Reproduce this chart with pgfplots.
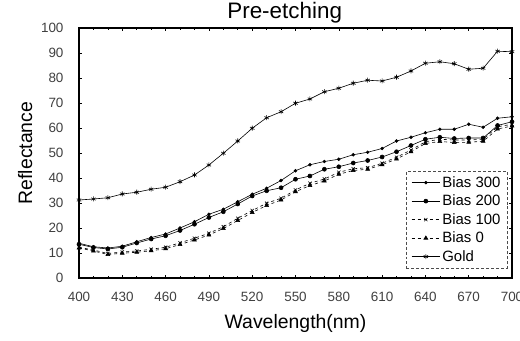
\documentclass[border=0pt]{standalone}
\usepackage{pgfplots}
\pgfplotsset{compat=1.18}
\usepackage{fontspec}
\setmainfont{Liberation Sans}
\begin{document}
\begin{tikzpicture}
\begin{axis}[
  at={(0,0)}, anchor=south west,
  scale only axis, width=433bp, height=250bp,
  xmin=400, xmax=700, ymin=0, ymax=100,
  xtick={400,430,...,700}, ytick={0,10,...,100},
  minor x tick num=2,
  tick align=inside, major tick length=3bp, minor tick length=2bp,
  axis line style={line width=1.3bp},
  every tick/.style={black, line width=0.6bp},
  tick label style={font=\fontsize{13.5}{15}\selectfont, text=black!75},
  /pgf/number format/assume math mode=true,
  /pgf/number format/1000 sep={},
  xticklabel style={yshift=-11bp},
  yticklabel style={xshift=-12bp},
  xlabel={Wavelength(nm)}, ylabel={Reflectance},
  label style={font=\fontsize{19.5}{22}\selectfont},
  xlabel style={yshift=-6bp},
  ylabel style={yshift=2bp},
  title={Pre-etching},
  title style={font=\fontsize{22.5}{24}\selectfont, at={(0.475,1)}, yshift=-5bp},
  legend style={at={(0.99,0.04)}, anchor=south east, font=\fontsize{15}{17}\selectfont,
    draw=black!70, densely dashed, row sep=2.2bp, inner xsep=5bp, inner ysep=3bp,
    /tikz/every even column/.append style={column sep=2bp}},
  legend cell align=left,
  legend image code/.code={\draw[mark repeat=2,mark phase=2,#1] plot coordinates {(0cm,0cm) (0.5cm,0cm) (1.0cm,0cm)};},
  every axis plot/.append style={black, line width=0.6bp},
]
% Bias 300
\addplot[solid, mark=*, mark size=1.4bp, mark options={solid}] coordinates {
(400,13.9)(410,12.5)(420,12.0)(430,12.7)(440,14.5)(450,16.2)(460,17.6)(470,20.0)(480,22.5)(490,25.5)
(500,27.5)(510,30.5)(520,33.5)(530,35.9)(540,39.0)(550,42.9)(560,45.3)(570,46.6)(580,47.5)(590,49.3)
(600,50.3)(610,51.8)(620,54.8)(630,56.3)(640,58.1)(650,59.5)(660,59.5)(670,61.5)(680,60.3)(690,63.9)(700,64.5)};
\addlegendentry{Bias 300}
% Bias 200
\addplot[solid, mark=*, mark size=2bp, mark options={solid}] coordinates {
(400,13.5)(410,12.2)(420,11.6)(430,12.3)(440,14.0)(450,15.6)(460,16.9)(470,19.0)(480,21.5)(490,24.2)
(500,26.5)(510,29.6)(520,32.8)(530,34.9)(540,36.1)(550,39.5)(560,40.8)(570,43.5)(580,44.5)(590,46.0)
(600,47.0)(610,48.4)(620,50.5)(630,53.0)(640,55.5)(650,56.3)(660,55.8)(670,56.0)(680,56.0)(690,61.0)(700,62.5)};
\addlegendentry{Bias 200}
% Bias 100
\addplot[dashed, mark=x, mark size=2.3bp, mark options={solid}] coordinates {
(400,12.3)(410,11.2)(420,9.8)(430,10.4)(440,10.8)(450,11.5)(460,12.3)(470,14.1)(480,15.9)(490,17.9)
(500,20.5)(510,23.9)(520,27.0)(530,29.9)(540,31.9)(550,35.2)(560,37.9)(570,39.6)(580,42.3)(590,43.7)
(600,44.1)(610,45.9)(620,48.3)(630,51.2)(640,54.5)(650,55.5)(660,55.2)(670,55.2)(680,55.5)(690,60.5)(700,61.5)};
\addlegendentry{Bias 100}
% Bias 0
\addplot[dashed, mark=triangle*, mark size=2.2bp, mark options={solid}] coordinates {
(400,12.0)(410,10.8)(420,9.4)(430,9.9)(440,10.3)(450,10.9)(460,11.7)(470,13.4)(480,15.2)(490,17.2)
(500,19.8)(510,23.0)(520,26.2)(530,29.0)(540,31.2)(550,34.5)(560,37.0)(570,38.8)(580,41.5)(590,43.0)
(600,43.5)(610,45.3)(620,47.6)(630,50.5)(640,53.8)(650,54.6)(660,54.2)(670,54.3)(680,54.7)(690,59.6)(700,60.8)};
\addlegendentry{Bias 0}
% Gold
\addplot[solid, mark=asterisk, mark size=2.5bp, mark options={solid}] coordinates {
(400,31.2)(410,31.6)(420,32.1)(430,33.6)(440,34.3)(450,35.5)(460,36.3)(470,38.5)(480,41.2)(490,45.2)
(500,49.9)(510,54.8)(520,59.9)(530,64.1)(540,66.5)(550,69.9)(560,71.6)(570,74.5)(580,75.9)(590,77.9)
(600,79.1)(610,78.8)(620,80.3)(630,82.8)(640,85.9)(650,86.5)(660,85.7)(670,83.5)(680,83.9)(690,90.7)(700,90.5)};
\addlegendentry{Gold}
\end{axis}
\pgfresetboundingbox
\path (-79bp,-63bp) rectangle (441bp,278bp);
\end{tikzpicture}
\end{document}
